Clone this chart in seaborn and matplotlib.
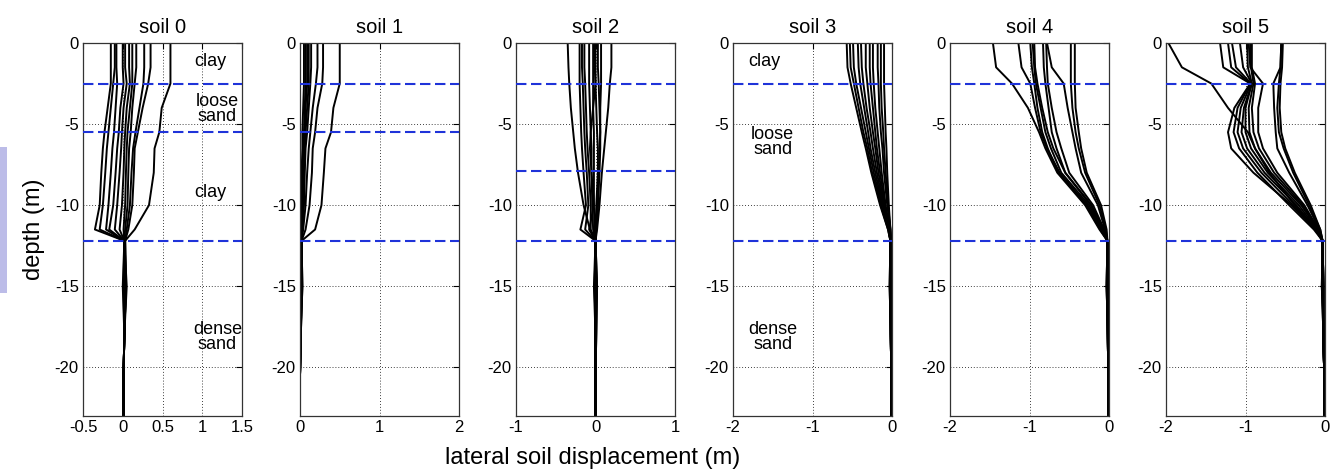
import numpy as np
import pandas as pd
import matplotlib
matplotlib.use("Agg")
import matplotlib.pyplot as plt
from matplotlib.patches import Rectangle
import seaborn as sns

nan = np.nan

# depth nodes (m) at which each displacement profile is read
depth_nodes = [0, -1.5, -2.5, -4, -5.5, -6.5, -8, -10, -11.5, -12.2, -15, -18, -20.5, -23]

titles = ["soil 0", "soil 1", "soil 2", "soil 3", "soil 4", "soil 5"]
xlims = [(-0.5, 1.5), (0, 2), (-1, 1), (-2, 0), (-2, 0), (-2, 0)]
xticks = [[-0.5, 0, 0.5, 1, 1.5], [0, 1, 2], [-1, 0, 1], [-2, -1, 0], [-2, -1, 0], [-2, -1, 0]]
xticklabels = [["-0.5", "0", "0.5", "1", "1.5"], ["0", "1", "2"], ["-1", "0", "1"],
               ["-2", "-1", "0"], ["-2", "-1", "0"], ["-2", "-1", "0"]]
yticks = [0, -5, -10, -15, -20]
layer_bounds = [[-2.5, -5.5, -12.2], [-2.5, -5.5, -12.2], [-2.5, -7.9, -12.2],
                [-2.5, -12.2], [-2.5, -12.2], [-2.5, -12.2]]

soil0 = [
    [0.60, 0.60, 0.60, 0.49, 0.46, 0.40, 0.39, 0.33, 0.15, 0.03, 0.04, 0.02, 0.01, 0.01],
    [0.35, 0.35, 0.32, 0.25, 0.19, 0.15, 0.14, 0.12, 0.07, 0.03, 0.03, 0.02, 0.01, 0.01],
    [0.27, 0.27, 0.26, 0.21, 0.16, 0.13, 0.11, 0.09, 0.05, 0.03, 0.04, 0.02, 0.01, 0.01],
    [0.17, 0.17, 0.15, 0.12, 0.10, 0.08, 0.07, 0.06, 0.03, 0.02, 0.05, 0.02, 0.01, 0.01],
    [0.12, 0.12, 0.12, 0.09, 0.06, 0.05, 0.04, 0.03, 0.01, 0.02, 0.03, 0.02, 0.01, 0.01],
    [0.08, 0.08, 0.09, 0.05, 0.03, 0.02, 0.01, -0.01, -0.04, 0.02, 0.02, 0.02, 0.01, 0.01],
    [0.03, 0.03, 0.05, 0.01, -0.01, -0.02, -0.04, -0.07, -0.10, 0.02, 0.01, 0.02, 0.01, 0.01],
    [0.00, 0.00, 0.01, -0.03, -0.05, -0.07, -0.09, -0.12, -0.17, 0.02, 0.00, 0.02, 0.01, 0.01],
    [-0.08, -0.08, -0.07, -0.09, -0.11, -0.13, -0.15, -0.18, -0.21, 0.02, 0.02, 0.02, 0.01, 0.01],
    [-0.10, -0.10, -0.12, -0.15, -0.18, -0.20, -0.22, -0.25, -0.29, 0.02, 0.03, 0.02, 0.01, 0.01],
    [-0.15, -0.15, -0.15, -0.19, -0.23, -0.25, -0.27, -0.29, -0.35, 0.02, 0.04, 0.02, 0.01, 0.01],
]

soil1 = [
    [0.50, 0.50, 0.50, 0.42, 0.39, 0.32, 0.30, 0.27, 0.19, 0.02, 0.02, 0.01, 0.00, nan],
    [0.29, 0.29, 0.28, 0.22, 0.19, 0.16, 0.15, 0.12, 0.07, 0.02, 0.03, 0.01, 0.00, nan],
    [0.22, 0.22, 0.20, 0.16, 0.13, 0.11, 0.09, 0.07, 0.04, 0.02, 0.02, 0.01, 0.00, nan],
    [0.14, 0.14, 0.13, 0.11, 0.09, 0.07, 0.06, 0.05, 0.03, 0.02, 0.01, 0.01, 0.00, nan],
    [0.11, 0.11, 0.11, 0.09, 0.07, 0.06, 0.05, 0.04, 0.02, 0.02, 0.03, 0.01, 0.00, nan],
    [0.09, 0.09, 0.09, 0.07, 0.06, 0.05, 0.04, 0.03, 0.02, 0.02, 0.00, 0.01, 0.00, nan],
    [0.07, 0.07, 0.07, 0.06, 0.05, 0.04, 0.03, 0.02, 0.01, 0.02, 0.02, 0.01, 0.00, nan],
    [0.05, 0.05, 0.05, 0.04, 0.03, 0.03, 0.02, 0.01, 0.01, 0.02, 0.01, 0.01, 0.00, nan],
]

soil2 = [
    [-0.35, -0.34, -0.33, -0.31, -0.28, -0.26, -0.22, -0.15, -0.07, 0.00, 0.01, 0.00, 0.00, 0.00],
    [-0.20, -0.20, -0.20, -0.19, -0.18, -0.17, -0.15, -0.12, -0.19, 0.00, -0.02, 0.00, 0.00, 0.00],
    [-0.17, -0.17, -0.16, -0.15, -0.14, -0.13, -0.11, -0.09, -0.13, 0.00, 0.02, 0.01, 0.00, 0.00],
    [-0.14, -0.14, -0.13, -0.12, -0.11, -0.10, -0.08, -0.06, -0.06, 0.00, -0.01, 0.00, 0.00, 0.00],
    [-0.08, -0.08, -0.08, -0.07, -0.06, -0.05, -0.05, -0.04, -0.03, 0.00, 0.01, 0.00, 0.00, 0.00],
    [-0.03, -0.03, -0.03, -0.03, -0.02, -0.02, -0.02, -0.02, -0.01, 0.00, 0.00, 0.00, 0.00, 0.00],
    [0.00, 0.00, 0.00, 0.01, 0.02, 0.03, 0.03, 0.01, 0.00, 0.00, 0.01, 0.00, 0.00, 0.00],
    [0.03, 0.03, 0.04, 0.05, 0.06, 0.06, 0.05, 0.03, 0.01, 0.00, -0.01, 0.00, 0.00, 0.00],
    [0.07, 0.07, 0.07, 0.06, 0.06, 0.05, 0.04, 0.03, 0.01, 0.00, 0.02, 0.01, 0.00, 0.00],
    [0.20, 0.20, 0.18, 0.16, 0.13, 0.11, 0.08, 0.05, 0.02, 0.00, 0.00, 0.00, 0.00, 0.00],
    [-0.01, -0.01, 0.00, -0.03, -0.06, -0.07, -0.05, -0.02, -0.08, 0.00, 0.00, 0.00, 0.00, 0.00],
]

soil3 = [
    [-0.57, -0.56, -0.52, -0.45, -0.38, -0.33, -0.26, -0.15, -0.05, -0.02, -0.02, -0.015, -0.01, -0.01],
    [-0.53, -0.52, -0.48, -0.42, -0.36, -0.31, -0.25, -0.14, -0.05, -0.02, -0.03, -0.015, -0.01, -0.01],
    [-0.49, -0.48, -0.45, -0.39, -0.33, -0.29, -0.23, -0.13, -0.04, -0.02, -0.02, -0.015, -0.01, -0.01],
    [-0.43, -0.42, -0.40, -0.35, -0.30, -0.27, -0.21, -0.12, -0.04, -0.02, -0.01, -0.015, -0.01, -0.01],
    [-0.39, -0.38, -0.36, -0.32, -0.27, -0.24, -0.19, -0.11, -0.04, -0.02, -0.02, -0.015, -0.01, -0.01],
    [-0.33, -0.33, -0.31, -0.28, -0.24, -0.21, -0.17, -0.10, -0.03, -0.02, -0.03, -0.015, -0.01, -0.01],
    [-0.28, -0.28, -0.27, -0.24, -0.21, -0.19, -0.15, -0.09, -0.03, -0.02, -0.02, -0.015, -0.01, -0.01],
    [-0.24, -0.24, -0.23, -0.21, -0.18, -0.16, -0.13, -0.08, -0.03, -0.02, -0.01, -0.015, -0.01, -0.01],
    [-0.18, -0.18, -0.17, -0.16, -0.14, -0.12, -0.10, -0.06, -0.02, -0.01, -0.02, -0.015, -0.01, -0.01],
    [-0.14, -0.14, -0.14, -0.13, -0.11, -0.10, -0.08, -0.05, -0.02, -0.01, -0.01, -0.015, -0.01, -0.01],
    [-0.10, -0.10, -0.10, -0.09, -0.08, -0.07, -0.06, -0.04, -0.02, -0.01, -0.02, -0.015, -0.01, -0.01],
]

soil4 = [
    [-1.46, -1.42, -1.22, -1.02, -0.88, -0.80, -0.65, -0.30, -0.12, -0.02, -0.02, -0.015, -0.01, -0.01],
    [-1.14, -1.10, -0.99, -0.93, -0.86, -0.78, -0.62, -0.28, -0.11, -0.02, -0.03, -0.015, -0.01, -0.01],
    [-0.99, -0.97, -0.94, -0.90, -0.84, -0.77, -0.64, -0.27, -0.10, -0.02, -0.02, -0.015, -0.01, -0.01],
    [-0.96, -0.94, -0.92, -0.86, -0.80, -0.73, -0.60, -0.25, -0.09, -0.02, -0.01, -0.015, -0.01, -0.01],
    [-0.94, -0.93, -0.90, -0.84, -0.77, -0.70, -0.55, -0.23, -0.08, -0.02, -0.03, -0.015, -0.01, -0.01],
    [-0.83, -0.82, -0.80, -0.76, -0.72, -0.66, -0.55, -0.22, -0.07, -0.02, -0.02, -0.015, -0.01, -0.01],
    [-0.79, -0.78, -0.77, -0.72, -0.66, -0.60, -0.50, -0.20, -0.06, -0.02, -0.01, -0.015, -0.01, -0.01],
    [-0.78, -0.72, -0.57, -0.52, -0.46, -0.42, -0.35, -0.14, -0.05, -0.02, -0.02, -0.015, -0.01, -0.01],
    [-0.48, -0.48, -0.48, -0.46, -0.42, -0.38, -0.30, -0.12, -0.04, -0.02, -0.03, -0.015, -0.01, -0.01],
    [-0.43, -0.43, -0.43, -0.42, -0.38, -0.35, -0.28, -0.10, -0.03, -0.02, -0.02, -0.015, -0.01, -0.01],
]

soil5 = [
    [-1.97, -1.80, -1.43, -1.22, -0.97, -0.88, -0.70, -0.38, -0.12, -0.03, -0.02, -0.02, -0.01, -0.01],
    [-1.32, -1.28, -0.94, -1.14, -1.22, -1.18, -0.90, -0.42, -0.12, -0.03, -0.03, -0.02, -0.01, -0.01],
    [-1.22, -1.18, -0.94, -1.10, -1.15, -1.08, -0.85, -0.45, -0.14, -0.03, -0.02, -0.02, -0.01, -0.01],
    [-1.17, -1.12, -0.93, -1.06, -1.10, -1.03, -0.80, -0.40, -0.12, -0.03, -0.04, -0.02, -0.01, -0.01],
    [-1.07, -1.03, -0.92, -1.02, -1.05, -0.98, -0.76, -0.36, -0.11, -0.03, -0.02, -0.02, -0.01, -0.01],
    [-0.98, -0.97, -0.92, -1.00, -1.00, -0.93, -0.72, -0.33, -0.10, -0.03, -0.03, -0.02, -0.01, -0.01],
    [-0.94, -0.93, -0.90, -0.96, -0.95, -0.88, -0.68, -0.30, -0.09, -0.03, -0.02, -0.02, -0.01, -0.01],
    [-0.92, -0.92, -0.88, -0.92, -0.90, -0.83, -0.64, -0.28, -0.08, -0.03, -0.04, -0.02, -0.01, -0.01],
    [-0.96, -0.94, -0.78, -0.84, -0.84, -0.78, -0.60, -0.26, -0.08, -0.03, -0.02, -0.02, -0.01, -0.01],
    [-0.55, -0.56, -0.65, -0.64, -0.62, -0.60, -0.45, -0.22, -0.07, -0.03, -0.03, -0.02, -0.01, -0.01],
    [-0.55, -0.56, -0.58, -0.60, -0.58, -0.52, -0.40, -0.20, -0.06, -0.03, -0.02, -0.02, -0.01, -0.01],
    [-0.53, -0.54, -0.56, -0.57, -0.55, -0.50, -0.38, -0.18, -0.06, -0.03, -0.03, -0.02, -0.01, -0.01],
]

panels = [soil0, soil1, soil2, soil3, soil4, soil5]

# layer annotations: (panel, x, y, text)
annotations = [
    (0, 1.10, -1.15, "clay"),
    (0, 1.19, -4.05, "loose\nsand"),
    (0, 1.10, -9.2, "clay"),
    (0, 1.19, -18.1, "dense\nsand"),
    (3, -1.60, -1.15, "clay"),
    (3, -1.50, -6.1, "loose\nsand"),
    (3, -1.50, -18.1, "dense\nsand"),
]

sns.set_style("white")
plt.rcParams["font.family"] = ["Liberation Sans", "DejaVu Sans"]
plt.rcParams["text.color"] = "black"
plt.rcParams["axes.labelcolor"] = "black"
plt.rcParams["xtick.color"] = "black"
plt.rcParams["ytick.color"] = "black"

W, H = 1342, 474
fig = plt.figure(figsize=(W / 100, H / 100), dpi=100)
fig.patch.set_facecolor("white")

lefts_px = [83, 300, 516, 733, 950, 1166]
ax_w_px = 159
top_px, bot_px = 43, 416

blue = (0.12, 0.2, 0.85)
axes = []
for i, curves in enumerate(panels):
    ax = fig.add_axes([lefts_px[i] / W, 1 - bot_px / H, ax_w_px / W, (bot_px - top_px) / H])
    axes.append(ax)
    rows = []
    for c, vals in enumerate(curves):
        for d, v in zip(depth_nodes, vals):
            rows.append({"curve": c, "depth": d, "disp": v})
    df = pd.DataFrame(rows).dropna()
    ax.grid(True, ls=(0, (1, 2.5)), color="k", lw=0.6)
    ax.set_axisbelow(True)
    sns.lineplot(data=df, x="disp", y="depth", units="curve", estimator=None,
                 sort=False, color="k", lw=1.4, ax=ax, legend=False)
    for yb in layer_bounds[i]:
        ax.axhline(yb, color=blue, ls=(0, (5, 2.2)), lw=1.5, zorder=3)
    ax.set_xlim(*xlims[i])
    ax.set_ylim(-23, 0)
    ax.set_xticks(xticks[i])
    ax.set_xticklabels(xticklabels[i])
    ax.set_yticks(yticks)
    ax.set_yticklabels([str(t) for t in yticks])
    ax.tick_params(direction="in", length=4, width=0.8, top=True, right=True,
                   labelsize=12, pad=3, colors="k")
    ax.set_xlabel("")
    ax.set_ylabel("")
    ax.set_title(titles[i], fontsize=14.5, pad=7, color="k")
    for sp in ax.spines.values():
        sp.set_color("#333333")
        sp.set_linewidth(0.9)

for (p, x, y, t) in annotations:
    axes[p].text(x, y, t, ha="center", va="center", fontsize=13,
                 linespacing=0.85, zorder=4, color="k")

fig.text(34 / W, 1 - 229 / H, "depth (m)", rotation=90, ha="center", va="center",
         fontsize=17, color="k")
fig.text(593 / W, 1 - 458 / H, "lateral soil displacement (m)", ha="center",
         va="center", fontsize=17, color="k")

fig.patches.append(Rectangle((0, 1 - 293 / H), 7 / W, 146 / H, transform=fig.transFigure,
                             facecolor="#bcbce8", edgecolor="none"))

fig.savefig("out.png", dpi=100)
